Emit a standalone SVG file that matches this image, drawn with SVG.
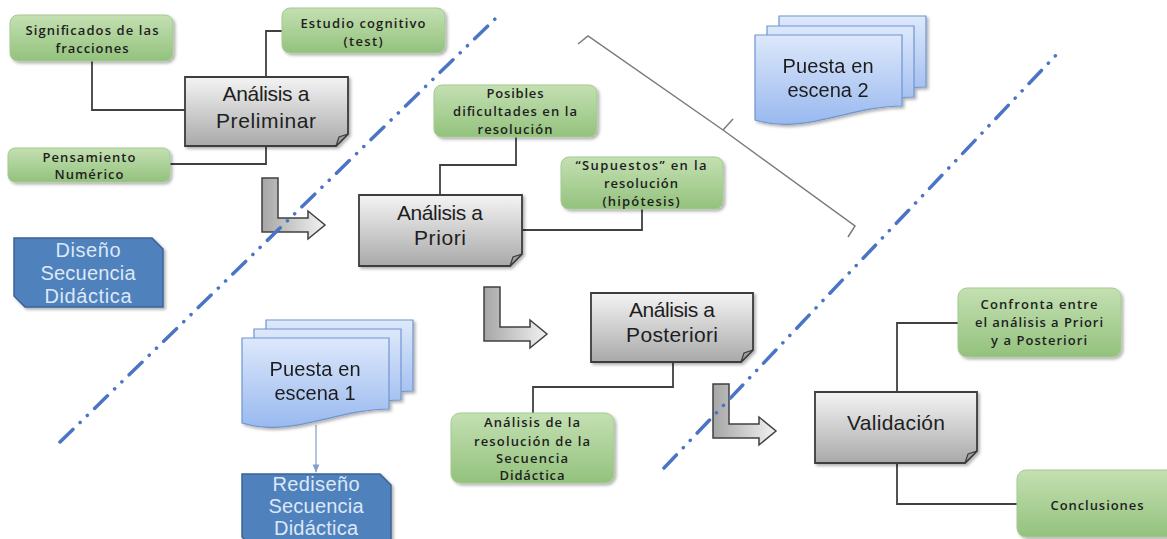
<svg xmlns="http://www.w3.org/2000/svg" width="1167" height="539" viewBox="0 0 1167 539">
<defs>
<linearGradient id="gGreen" x1="0" y1="0" x2="0" y2="1"><stop offset="0" stop-color="#c4e0b2"/><stop offset="1" stop-color="#93c27d"/></linearGradient>
<linearGradient id="gGray" x1="0" y1="0" x2="0" y2="1"><stop offset="0" stop-color="#f4f4f4"/><stop offset="1" stop-color="#a9a9a9"/></linearGradient>
<linearGradient id="gDoc" x1="0" y1="0" x2="0" y2="1"><stop offset="0" stop-color="#dde8fb"/><stop offset="1" stop-color="#99b9ef"/></linearGradient>
<linearGradient id="gArrow" x1="0" y1="0" x2="1" y2="0"><stop offset="0" stop-color="#a6a6a6"/><stop offset="1" stop-color="#f2f2f2"/></linearGradient>
<filter id="sh" x="-10%" y="-10%" width="130%" height="130%"><feDropShadow dx="2" dy="2" stdDeviation="1.5" flood-color="#000" flood-opacity="0.3"/></filter>
<marker id="ah" viewBox="0 0 10 10" refX="9" refY="5" markerWidth="6" markerHeight="6" orient="auto"><path d="M0,1 L10,5 L0,9 Z" fill="#7f9fcf"/></marker>
<style>
.conn{fill:none;stroke:#404040;stroke-width:1.8}
.green{fill:url(#gGreen);stroke:#a5c992;stroke-width:1;filter:url(#sh)}
.gray{fill:url(#gGray);stroke:#3c3c3c;stroke-width:1.8;filter:url(#sh)}
.fold{fill:#a0a0a0;stroke:#3c3c3c;stroke-width:1.2}
.doc{fill:url(#gDoc);stroke:#6f95cf;stroke-width:1.2}
.snip{fill:#4f81bd;stroke:#3b6496;stroke-width:1.5;filter:url(#sh)}
.arrow{fill:url(#gArrow);stroke:#404040;stroke-width:1.5}
.dash{fill:none;stroke:#4a74c4;stroke-width:3.5;stroke-linecap:round;stroke-dasharray:18 10 0.1 10 0.1 10}
.brace{fill:none;stroke:#7a7a7a;stroke-width:1.5}
.tg{font-family:"Open Sans","Liberation Sans",Arial,sans-serif;font-size:13px;font-weight:600;fill:#1e1e1e;text-anchor:middle}
.tb{font-family:"Liberation Sans",Arial,sans-serif;font-size:21px;fill:#1e1e1e;text-anchor:middle}
.tw{font-family:"Liberation Sans",Arial,sans-serif;font-size:20px;fill:#dde8f6;text-anchor:middle}
</style>
</defs>
<rect width="1167" height="539" fill="#ffffff"/>

<g id="connectors">
<path class="conn" d="M92,61 V110 H185"/>
<path class="conn" d="M266,77 V31 H282"/>
<path class="conn" d="M266,146 V164 H170"/>
<path class="conn" d="M516,137 V165 H440 V195"/>
<path class="conn" d="M642,209 V230 H522"/>
<path class="conn" d="M673,362 V387 H533 V413"/>
<path class="conn" d="M897,392 V323 H958"/>
<path class="conn" d="M897,463 V504 H1017"/>
<path d="M316,425 V472" fill="none" stroke="#8eaad6" stroke-width="1.4" marker-end="url(#ah)"/>
</g>

<g id="significados">
<rect class="green" x="10" y="15" width="163" height="46" rx="8"/>
<text class="tg" x="92" y="35" textLength="133" lengthAdjust="spacing">Significados de las</text>
<text class="tg" x="92" y="53" textLength="73" lengthAdjust="spacing">fracciones</text>
</g>
<g id="estudio">
<rect class="green" x="282" y="8" width="163" height="45" rx="8"/>
<text class="tg" x="363" y="28" textLength="125" lengthAdjust="spacing">Estudio cognitivo</text>
<text class="tg" x="363" y="46" textLength="39" lengthAdjust="spacing">(test)</text>
</g>
<g id="pensamiento">
<rect class="green" x="8" y="148" width="162" height="34" rx="7"/>
<text class="tg" x="89" y="162" textLength="93" lengthAdjust="spacing">Pensamiento</text>
<text class="tg" x="89" y="179" textLength="69" lengthAdjust="spacing">Numérico</text>
</g>
<g id="posibles">
<rect class="green" x="434" y="85" width="163" height="52" rx="8"/>
<text class="tg" x="515" y="98" textLength="57" lengthAdjust="spacing">Posibles</text>
<text class="tg" x="515" y="116" textLength="124" lengthAdjust="spacing">dificultades en la</text>
<text class="tg" x="515" y="134" textLength="75" lengthAdjust="spacing">resolución</text>
</g>
<g id="supuestos">
<rect class="green" x="561" y="157" width="162" height="52" rx="8"/>
<text class="tg" x="641" y="170" textLength="131" lengthAdjust="spacing">“Supuestos”  en la</text>
<text class="tg" x="641" y="188" textLength="74" lengthAdjust="spacing">resolución</text>
<text class="tg" x="641" y="206" textLength="77" lengthAdjust="spacing">(hipótesis)</text>
</g>
<g id="analisis-resolucion">
<rect class="green" x="451" y="413" width="163" height="70" rx="9"/>
<text class="tg" x="532" y="427" textLength="96" lengthAdjust="spacing">Análisis de la</text>
<text class="tg" x="532" y="446" textLength="116" lengthAdjust="spacing">resolución de la</text>
<text class="tg" x="532" y="463" textLength="72" lengthAdjust="spacing">Secuencia</text>
<text class="tg" x="532" y="480" textLength="65" lengthAdjust="spacing">Didáctica</text>
</g>
<g id="confronta">
<rect class="green" x="958" y="288" width="163" height="69" rx="9"/>
<text class="tg" x="1039" y="309" textLength="117" lengthAdjust="spacing">Confronta entre</text>
<text class="tg" x="1039" y="327" textLength="128" lengthAdjust="spacing">el análisis a Priori</text>
<text class="tg" x="1039" y="345" textLength="96" lengthAdjust="spacing">y a Posteriori</text>
</g>
<g id="conclusiones">
<rect class="green" x="1017" y="470" width="162" height="67" rx="9"/>
<text class="tg" x="1097" y="510" textLength="93" lengthAdjust="spacing">Conclusiones</text>
</g>

<g id="analisis-preliminar">
<path class="gray" d="M185,77 H348 V134 L336,146 H185 Z"/>
<path class="fold" d="M336,146 L339,137 L348,134 Z"/>
<text class="tb" x="266" y="101" textLength="87" lengthAdjust="spacing">Análisis a</text>
<text class="tb" x="266" y="128" textLength="100" lengthAdjust="spacing">Preliminar</text>
</g>
<g id="analisis-priori">
<path class="gray" d="M359,195 H522 V254 L510,266 H359 Z"/>
<path class="fold" d="M510,266 L513,257 L522,254 Z"/>
<text class="tb" x="440" y="220" textLength="86" lengthAdjust="spacing">Análisis a</text>
<text class="tb" x="440" y="245" textLength="52" lengthAdjust="spacing">Priori</text>
</g>
<g id="analisis-posteriori">
<path class="gray" d="M591,293 H753 V350 L741,362 H591 Z"/>
<path class="fold" d="M741,362 L744,353 L753,350 Z"/>
<text class="tb" x="672" y="317" textLength="86" lengthAdjust="spacing">Análisis a</text>
<text class="tb" x="672" y="342" textLength="92" lengthAdjust="spacing">Posteriori</text>
</g>
<g id="validacion">
<path class="gray" d="M815,392 H977 V451 L965,463 H815 Z"/>
<path class="fold" d="M965,463 L968,454 L977,451 Z"/>
<text class="tb" x="896" y="430" textLength="98" lengthAdjust="spacing">Validación</text>
</g>

<g id="puesta-escena-2" filter="url(#sh)">
<path class="doc" d="M779,16 H926 V87 C874,87 829,116 779,101 Z"/>
<path class="doc" d="M767,26 H914 V97 C862,97 817,126 767,111 Z"/>
<path class="doc" d="M755,35 H902 V106 C850,106 805,135 755,120 Z"/>
<text class="tb" x="828" y="73" style="font-size:20px" textLength="91" lengthAdjust="spacing">Puesta en</text>
<text class="tb" x="828" y="97" style="font-size:20px" textLength="81" lengthAdjust="spacing">escena 2</text>
</g>
<g id="puesta-escena-1" filter="url(#sh)">
<path class="doc" d="M266,320 H413 V391 C361,391 316,420 266,405 Z"/>
<path class="doc" d="M254,329 H401 V400 C349,400 304,429 254,414 Z"/>
<path class="doc" d="M242,338 H389 V409 C337,409 292,438 242,423 Z"/>
<text class="tb" x="315" y="376" style="font-size:20px" textLength="91" lengthAdjust="spacing">Puesta en</text>
<text class="tb" x="315" y="400" style="font-size:20px" textLength="81" lengthAdjust="spacing">escena 1</text>
</g>

<g id="diseno">
<path class="snip" d="M14,238 H152 L163,249 V307 H25 L14,296 Z"/>
<text class="tw" x="88" y="257" textLength="65" lengthAdjust="spacing">Diseño</text>
<text class="tw" x="88" y="280" textLength="95" lengthAdjust="spacing">Secuencia</text>
<text class="tw" x="88" y="303" textLength="87" lengthAdjust="spacing">Didáctica</text>
</g>
<g id="rediseno">
<path class="snip" d="M242,474 H380 L391,485 V548 H253 L242,537 Z"/>
<text class="tw" x="316" y="491" textLength="87" lengthAdjust="spacing">Rediseño</text>
<text class="tw" x="316" y="513" textLength="95" lengthAdjust="spacing">Secuencia</text>
<text class="tw" x="316" y="535" textLength="84" lengthAdjust="spacing">Didáctica</text>
</g>

<g id="flow-arrows">
<path class="arrow" d="M262,178 h16 v40 h30 v-7 l17,14 l-17,14 v-7 h-46 z"/>
<path class="arrow" d="M484,287 h16 v40 h30 v-7 l17,14 l-17,14 v-7 h-46 z"/>
<path class="arrow" d="M713,384 h16 v40 h30 v-7 l17,14 l-17,14 v-7 h-46 z"/>
</g>

<g id="dividers">
<path class="dash" d="M60,442 L497,17"/>
<path class="dash" d="M664,468 L1058,53"/>
<path class="brace" d="M578,44 L588,36 L723,130 L855,226 L848,237"/>
<path class="brace" d="M723,130 L733,119"/>
</g>
</svg>
